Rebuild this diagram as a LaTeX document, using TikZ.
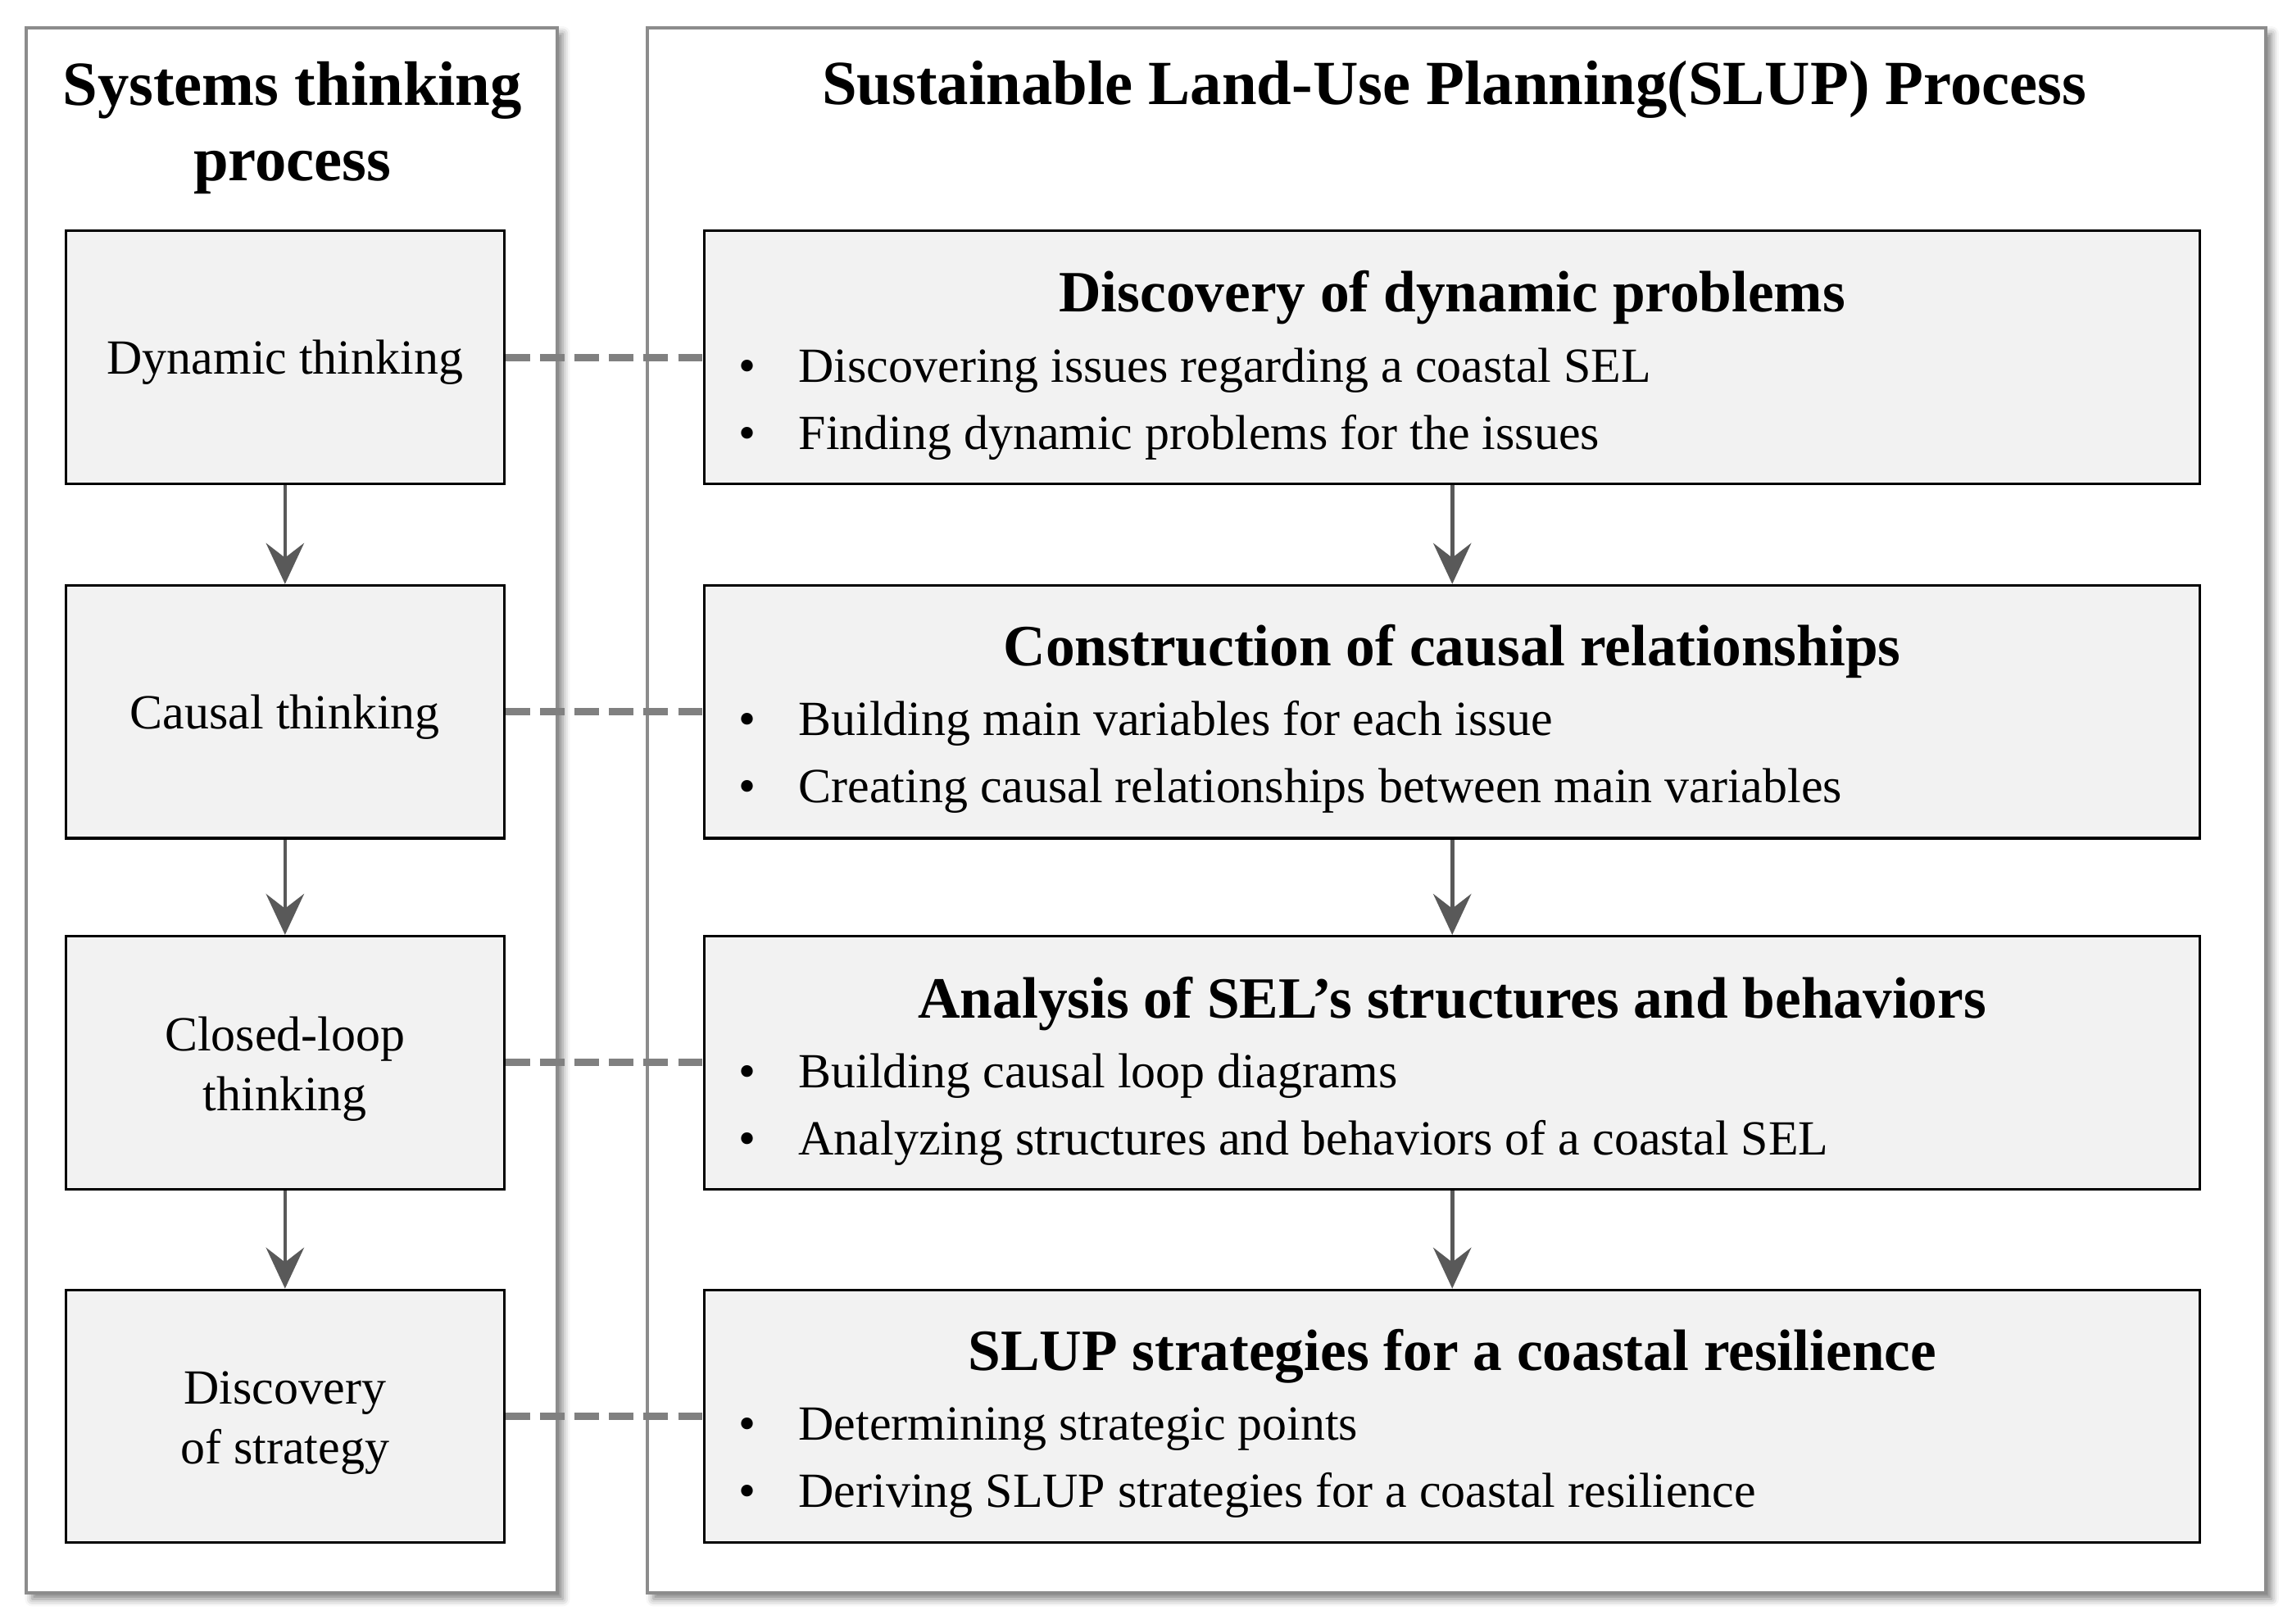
\documentclass[tikz,border=0pt]{standalone}
\usepackage{fontspec}
\setmainfont{Liberation Serif}
\usepackage{xcolor}
\usepackage{tikz}
\usetikzlibrary{arrows.meta}
\usetikzlibrary{shadows.blur}

\begin{document}
\begin{tikzpicture}[x=0.5pt, y=-0.5pt,
  panel/.style={draw=black!45, line width=1.1pt, fill=white, blur shadow={shadow xshift=2pt, shadow yshift=-2pt, shadow blur radius=2.5pt, shadow opacity=50}},
  thinkbox/.style={draw=black, line width=0.9pt, fill=black!5, minimum width=150pt, minimum height=86.5pt},
  thinktext/.style={align=center, inner sep=0pt, font=\fontsize{16.8}{20.5}\selectfont},
  planbox/.style={draw=black, line width=0.9pt, fill=black!5, minimum width=511.5pt, minimum height=86.5pt},
  paneltitle/.style={align=center, font=\bfseries\fontsize{21.5}{26}\selectfont},
  heading/.style={inner sep=0pt, text height=14pt, text depth=4pt, font=\bfseries\fontsize{20}{24}\selectfont},
  bulletline/.style={anchor=west, inner sep=0pt, text height=11.5pt, text depth=3.7pt, font=\fontsize{16.8}{20}\selectfont},
  dot/.style={inner sep=0pt, text height=11.5pt, text depth=3.7pt, font=\fontsize{16.8}{20}\selectfont},
  flow/.style={draw=black!65, line width=1.3pt, -{Stealth[length=14pt, width=13pt, inset=5pt]}},
  link/.style={draw=black!50, line width=2.5pt, dash pattern=on 8.4pt off 3.4pt}]
  \useasboundingbox (0,0) rectangle (1568,1111);
  % panels
  \draw[panel] (18,19) rectangle (381,1090);
  \draw[panel] (443,19) rectangle (1550,1090);
  \node[paneltitle] (sysT) at (200,87.5) {Systems thinking\\process};
  \node[paneltitle] (slupT) at (995,61.5) {Sustainable Land-Use Planning(SLUP) Process};
  % systems thinking steps
  \node[thinkbox] (dyn) at (195,244.5) {};
  \node[thinktext] (dynT) at (195,248) {Dynamic thinking};
  \node[thinkbox] (cau) at (195,487) {};
  \node[thinktext] (cauT) at (195,490.5) {Causal thinking};
  \node[thinkbox] (loop) at (195,727) {};
  \node[thinktext] (loopT) at (195,731.5) {Closed-loop\\thinking};
  \node[thinkbox] (strat) at (195,969) {};
  \node[thinktext] (stratT) at (195,973.5) {Discovery\\of strategy};
  % SLUP steps
  \node[planbox] (disc) at (993.5,244.5) {};
  \node[heading] (discH) at (993.5,203.5) {Discovery of dynamic problems};
  \node[dot] (discA) at (511,253.5) {\textbullet};
  \node[bulletline] (discAt) at (546,253.5) {Discovering issues regarding a coastal SEL};
  \node[dot] (discB) at (511,299.5) {\textbullet};
  \node[bulletline] (discBt) at (546,299.5) {Finding dynamic problems for the issues};
  \node[planbox] (cons) at (993.5,487) {};
  \node[heading] (consH) at (993.5,445.5) {Construction of causal relationships};
  \node[dot] (consA) at (511,495.5) {\textbullet};
  \node[bulletline] (consAt) at (546,495.5) {Building main variables for each issue};
  \node[dot] (consB) at (511,541.5) {\textbullet};
  \node[bulletline] (consBt) at (546,541.5) {Creating causal relationships between main variables};
  \node[planbox] (anal) at (993.5,727) {};
  \node[heading] (analH) at (993.5,686.5) {Analysis of SEL’s structures and behaviors};
  \node[dot] (analA) at (511,736.5) {\textbullet};
  \node[bulletline] (analAt) at (546,736.5) {Building causal loop diagrams};
  \node[dot] (analB) at (511,782.5) {\textbullet};
  \node[bulletline] (analBt) at (546,782.5) {Analyzing structures and behaviors of a coastal SEL};
  \node[planbox] (slup) at (993.5,969) {};
  \node[heading] (slupH) at (993.5,927.5) {SLUP strategies for a coastal resilience};
  \node[dot] (slupA) at (511,977.5) {\textbullet};
  \node[bulletline] (slupAt) at (546,977.5) {Determining strategic points};
  \node[dot] (slupB) at (511,1023.5) {\textbullet};
  \node[bulletline] (slupBt) at (546,1023.5) {Deriving SLUP strategies for a coastal resilience};
  % connectors
  \foreach \a/\b in {dyn/cau, cau/loop, loop/strat, disc/cons, cons/anal, anal/slup}
    \draw[flow] (\a) -- (\b);
  \foreach \a/\b in {dyn/disc, cau/cons, loop/anal, strat/slup}
    \draw[link] (\a) -- (\b);
\end{tikzpicture}
\end{document}
